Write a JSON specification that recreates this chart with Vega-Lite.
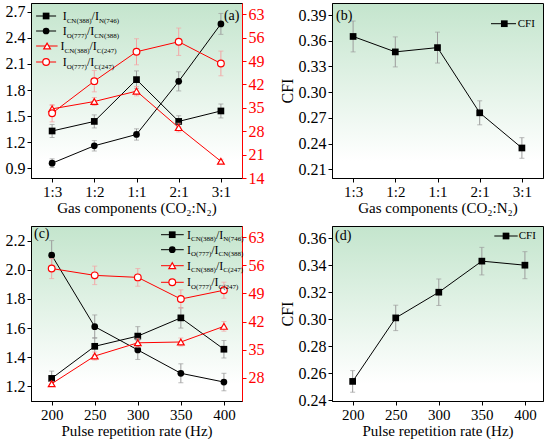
{
  "$schema": "https://vega.github.io/schema/vega-lite/v6.json",
  "padding": {"left": 4, "top": 2, "right": 0, "bottom": 0},
  "bounds": "flush",
  "columns": 2,
  "spacing": {"row": 48, "column": 90},
  "datasets": {
    "gas": [
      {"gas": "1:3", "series": "sq", "value": 1.33, "err": 0.075},
      {"gas": "1:2", "series": "sq", "value": 1.44, "err": 0.075},
      {"gas": "1:1", "series": "sq", "value": 1.92, "err": 0.1},
      {"gas": "2:1", "series": "sq", "value": 1.44, "err": 0.065},
      {"gas": "3:1", "series": "sq", "value": 1.56, "err": 0.08},
      {"gas": "1:3", "series": "ci", "value": 0.96, "err": 0.05},
      {"gas": "1:2", "series": "ci", "value": 1.16, "err": 0.06},
      {"gas": "1:1", "series": "ci", "value": 1.29, "err": 0.065},
      {"gas": "2:1", "series": "ci", "value": 1.9, "err": 0.11},
      {"gas": "3:1", "series": "ci", "value": 2.56, "err": 0.12},
      {"gas": "1:3", "series": "tr", "value": 34.7, "err": 1.0},
      {"gas": "1:2", "series": "tr", "value": 36.9, "err": 1.2},
      {"gas": "1:1", "series": "tr", "value": 40.0, "err": 1.4},
      {"gas": "2:1", "series": "tr", "value": 29.1, "err": 1.3},
      {"gas": "3:1", "series": "tr", "value": 19.0, "err": 0.6},
      {"gas": "1:3", "series": "oc", "value": 33.4, "err": 2.6},
      {"gas": "1:2", "series": "oc", "value": 43.0, "err": 3.2},
      {"gas": "1:1", "series": "oc", "value": 51.8, "err": 3.9},
      {"gas": "2:1", "series": "oc", "value": 54.8, "err": 4.1},
      {"gas": "3:1", "series": "oc", "value": 48.3, "err": 3.7}
    ],
    "rate": [
      {"rate": 200, "series": "sq", "value": 1.255, "err": 0.05},
      {"rate": 250, "series": "sq", "value": 1.475, "err": 0.06},
      {"rate": 300, "series": "sq", "value": 1.545, "err": 0.065},
      {"rate": 350, "series": "sq", "value": 1.67, "err": 0.07},
      {"rate": 400, "series": "sq", "value": 1.455, "err": 0.06},
      {"rate": 200, "series": "ci", "value": 2.1, "err": 0.1},
      {"rate": 250, "series": "ci", "value": 1.61, "err": 0.08},
      {"rate": 300, "series": "ci", "value": 1.45, "err": 0.065},
      {"rate": 350, "series": "ci", "value": 1.29, "err": 0.065},
      {"rate": 400, "series": "ci", "value": 1.23, "err": 0.06},
      {"rate": 200, "series": "tr", "value": 26.5, "err": 0.6},
      {"rate": 250, "series": "tr", "value": 33.4, "err": 1.0},
      {"rate": 300, "series": "tr", "value": 36.7, "err": 1.1},
      {"rate": 350, "series": "tr", "value": 36.9, "err": 1.0},
      {"rate": 400, "series": "tr", "value": 40.8, "err": 1.2},
      {"rate": 200, "series": "oc", "value": 55.2, "err": 2.5},
      {"rate": 250, "series": "oc", "value": 53.5, "err": 2.3},
      {"rate": 300, "series": "oc", "value": 53.0, "err": 2.2},
      {"rate": 350, "series": "oc", "value": 47.6, "err": 2.3},
      {"rate": 400, "series": "oc", "value": 49.8, "err": 2.0}
    ],
    "cfi_gas": [
      {"gas": "1:3", "cfi": 0.365, "err": 0.018},
      {"gas": "1:2", "cfi": 0.347, "err": 0.0175},
      {"gas": "1:1", "cfi": 0.352, "err": 0.018},
      {"gas": "2:1", "cfi": 0.276, "err": 0.014},
      {"gas": "3:1", "cfi": 0.235, "err": 0.012}
    ],
    "cfi_rate": [
      {"rate": 200, "cfi": 0.254, "err": 0.008},
      {"rate": 250, "cfi": 0.301, "err": 0.0094},
      {"rate": 300, "cfi": 0.32, "err": 0.0098},
      {"rate": 350, "cfi": 0.343, "err": 0.0102},
      {"rate": 400, "cfi": 0.34, "err": 0.01}
    ]
  },
  "concat": [
    {
      "width": 211,
      "height": 175,
      "data": {"name": "gas"},
      "encoding": {
        "x": {"field": "gas", "type": "ordinal", "scale": {"type": "point", "padding": 0.5, "domain": ["1:3", "1:2", "1:1", "2:1", "3:1"]}, "axis": {"title": "Gas components (CO₂:N₂)", "labelAngle": 0}}
      },
      "layer": [
        {
          "transform": [{"filter": {"field": "series", "oneOf": ["sq", "ci"]}}],
          "encoding": {
            "y": {"field": "value", "type": "quantitative", "scale": {"domain": [0.79, 2.8], "nice": false, "zero": false}, "axis": {"values": [0.9, 1.2, 1.5, 1.8, 2.1, 2.4, 2.7], "format": ".1f", "title": null}}
          },
          "layer": [
            {"mark": {"type": "errorbar", "color": "#9c9c9c", "ticks": {"size": 5}}, "encoding": {"yError": {"field": "err"}}},
            {"mark": {"type": "line", "color": "black", "strokeWidth": 1}, "encoding": {"detail": {"field": "series"}}},
            {"mark": {"type": "point", "filled": true, "color": "black", "opacity": 1, "size": 45}, "encoding": {"shape": {"field": "series", "type": "nominal", "scale": {"domain": ["sq", "ci", "tr", "oc"], "range": ["square", "circle", "triangle-up", "circle"]}, "legend": null}}}
          ]
        },
        {
          "transform": [{"filter": {"field": "series", "oneOf": ["tr", "oc"]}}],
          "encoding": {
            "y": {"field": "value", "type": "quantitative", "scale": {"domain": [14, 66.4], "nice": false, "zero": false}, "axis": {"orient": "right", "values": [14, 21, 28, 35, 42, 49, 56, 63], "title": null, "domainColor": "red", "tickColor": "red", "labelColor": "red"}}
          },
          "layer": [
            {"mark": {"type": "errorbar", "color": "#f4a4a4", "ticks": {"size": 5}}, "encoding": {"yError": {"field": "err"}}},
            {"mark": {"type": "line", "color": "red", "strokeWidth": 1}, "encoding": {"detail": {"field": "series"}}},
            {"mark": {"type": "point", "filled": true, "fill": "white", "stroke": "red", "strokeWidth": 1.2, "opacity": 1, "size": 45}, "encoding": {"shape": {"field": "series", "type": "nominal", "scale": {"domain": ["sq", "ci", "tr", "oc"], "range": ["square", "circle", "triangle-up", "circle"]}, "legend": null}}},
            {
              "transform": [{"filter": "datum.gas == '1:3' && datum.series == 'tr'"}],
              "encoding": {"x": {"datum": "1:3", "type": "ordinal"}, "y": {"datum": 66.4, "type": "quantitative"}},
              "layer": [
                {"mark": {"type": "rule", "color": "black", "strokeWidth": 1, "xOffset": -16, "x2Offset": 4, "yOffset": 13}, "encoding": {"x2": {"datum": "1:3"}}},
                {"mark": {"type": "point", "shape": "square", "filled": true, "color": "black", "opacity": 1, "size": 45, "xOffset": -6, "yOffset": 13}},
                {"mark": {"type": "text", "text": "I", "fontSize": 12, "align": "left", "baseline": "middle", "dx": 10.6, "dy": 13, "color": "black"}},
                {"mark": {"type": "text", "text": "CN(388)", "fontSize": 7, "align": "left", "baseline": "middle", "dx": 14.6, "dy": 17.5, "color": "black"}},
                {"mark": {"type": "text", "text": "/I", "fontSize": 12, "align": "left", "baseline": "middle", "dx": 39.5, "dy": 13, "color": "black"}},
                {"mark": {"type": "text", "text": "N(746)", "fontSize": 7, "align": "left", "baseline": "middle", "dx": 46.8, "dy": 17.5, "color": "black"}},

                {"mark": {"type": "rule", "color": "black", "strokeWidth": 1, "xOffset": -16, "x2Offset": 4, "yOffset": 28}, "encoding": {"x2": {"datum": "1:3"}}},
                {"mark": {"type": "point", "shape": "circle", "filled": true, "color": "black", "opacity": 1, "size": 45, "xOffset": -6, "yOffset": 28}},
                {"mark": {"type": "text", "text": "I", "fontSize": 12, "align": "left", "baseline": "middle", "dx": 10.6, "dy": 28, "color": "black"}},
                {"mark": {"type": "text", "text": "O(777)", "fontSize": 7, "align": "left", "baseline": "middle", "dx": 14.6, "dy": 32.5, "color": "black"}},
                {"mark": {"type": "text", "text": "/I", "fontSize": 12, "align": "left", "baseline": "middle", "dx": 34.8, "dy": 28, "color": "black"}},
                {"mark": {"type": "text", "text": "CN(388)", "fontSize": 7, "align": "left", "baseline": "middle", "dx": 42.1, "dy": 32.5, "color": "black"}},

                {"mark": {"type": "rule", "color": "red", "strokeWidth": 1, "xOffset": -16, "x2Offset": 5.5, "yOffset": 43}, "encoding": {"x2": {"datum": "1:3"}}},
                {"mark": {"type": "point", "shape": "triangle-up", "filled": true, "fill": "white", "stroke": "red", "strokeWidth": 1.2, "opacity": 1, "size": 45, "xOffset": -5, "yOffset": 43}},
                {"mark": {"type": "text", "text": "I", "fontSize": 12, "align": "left", "baseline": "middle", "dx": 8.5, "dy": 43, "color": "black"}},
                {"mark": {"type": "text", "text": "CN(388)", "fontSize": 7, "align": "left", "baseline": "middle", "dx": 12.5, "dy": 47.5, "color": "black"}},
                {"mark": {"type": "text", "text": "/I", "fontSize": 12, "align": "left", "baseline": "middle", "dx": 37.4, "dy": 43, "color": "black"}},
                {"mark": {"type": "text", "text": "C(247)", "fontSize": 7, "align": "left", "baseline": "middle", "dx": 44.7, "dy": 47.5, "color": "black"}},

                {"mark": {"type": "rule", "color": "red", "strokeWidth": 1, "xOffset": -16, "x2Offset": 4, "yOffset": 59}, "encoding": {"x2": {"datum": "1:3"}}},
                {"mark": {"type": "point", "shape": "circle", "filled": true, "fill": "white", "stroke": "red", "strokeWidth": 1.2, "opacity": 1, "size": 45, "xOffset": -6, "yOffset": 59}},
                {"mark": {"type": "text", "text": "I", "fontSize": 12, "align": "left", "baseline": "middle", "dx": 10.6, "dy": 59, "color": "black"}},
                {"mark": {"type": "text", "text": "O(777)", "fontSize": 7, "align": "left", "baseline": "middle", "dx": 14.6, "dy": 63.5, "color": "black"}},
                {"mark": {"type": "text", "text": "/I", "fontSize": 12, "align": "left", "baseline": "middle", "dx": 34.8, "dy": 59, "color": "black"}},
                {"mark": {"type": "text", "text": "C(247)", "fontSize": 7, "align": "left", "baseline": "middle", "dx": 42.1, "dy": 63.5, "color": "black"}},

                {"mark": {"type": "text", "text": "(a)", "fontSize": 14, "align": "left", "baseline": "middle", "dx": 3, "dy": 13, "color": "black"}, "encoding": {"x": {"datum": "3:1", "type": "ordinal"}}}
              ]
            }
          ]
        }
      ],
      "resolve": {"scale": {"y": "independent"}}
    },
    {
      "width": 211,
      "height": 175,
      "data": {"name": "cfi_gas"},
      "encoding": {
        "x": {"field": "gas", "type": "ordinal", "scale": {"type": "point", "padding": 0.5, "domain": ["1:3", "1:2", "1:1", "2:1", "3:1"]}, "axis": {"title": "Gas components (CO₂:N₂)", "labelAngle": 0}},
        "y": {"field": "cfi", "type": "quantitative", "scale": {"domain": [0.2, 0.404], "nice": false, "zero": false}, "axis": {"values": [0.21, 0.24, 0.27, 0.3, 0.33, 0.36, 0.39], "format": ".2f", "title": "CFI", "titleFontSize": 16, "titlePadding": 3}}
      },
      "layer": [
        {"mark": {"type": "errorbar", "color": "#9c9c9c", "ticks": {"size": 5}}, "encoding": {"yError": {"field": "err"}}},
        {"mark": {"type": "line", "color": "black", "strokeWidth": 1}},
        {"mark": {"type": "point", "shape": "square", "filled": true, "color": "black", "opacity": 1, "size": 45}},
        {
          "transform": [{"filter": "datum.gas == '3:1'"}],
          "encoding": {"x": {"datum": "3:1", "type": "ordinal"}, "y": {"datum": 0.404, "type": "quantitative"}},
          "layer": [
            {"mark": {"type": "rule", "color": "black", "strokeWidth": 1, "xOffset": -30.9, "x2Offset": -5.9, "yOffset": 20.7}, "encoding": {"x2": {"datum": "3:1"}}},
            {"mark": {"type": "point", "shape": "square", "filled": true, "color": "black", "opacity": 1, "size": 45, "xOffset": -17.6, "yOffset": 20.7}},
            {"mark": {"type": "text", "text": "CFI", "fontSize": 11, "align": "left", "baseline": "middle", "dx": -4.2, "dy": 20.7, "color": "black"}},
            {"mark": {"type": "text", "text": "(b)", "fontSize": 14, "align": "left", "baseline": "middle", "dx": -17, "dy": 13, "color": "black"}, "encoding": {"x": {"datum": "1:3", "type": "ordinal"}}}
          ]
        }
      ]
    },
    {
      "width": 211,
      "height": 175,
      "data": {"name": "rate"},
      "encoding": {
        "x": {"field": "rate", "type": "quantitative", "scale": {"domain": [176, 421], "nice": false, "zero": false}, "axis": {"title": "Pulse repetition rate (Hz)", "values": [200, 250, 300, 350, 400]}}
      },
      "layer": [
        {
          "transform": [{"filter": {"field": "series", "oneOf": ["sq", "ci"]}}],
          "encoding": {
            "y": {"field": "value", "type": "quantitative", "scale": {"domain": [1.1, 2.3], "nice": false, "zero": false}, "axis": {"values": [1.2, 1.4, 1.6, 1.8, 2.0, 2.2], "format": ".1f", "title": null}}
          },
          "layer": [
            {"mark": {"type": "errorbar", "color": "#9c9c9c", "ticks": {"size": 5}}, "encoding": {"yError": {"field": "err"}}},
            {"mark": {"type": "line", "color": "black", "strokeWidth": 1}, "encoding": {"detail": {"field": "series"}}},
            {"mark": {"type": "point", "filled": true, "color": "black", "opacity": 1, "size": 45}, "encoding": {"shape": {"field": "series", "type": "nominal", "scale": {"domain": ["sq", "ci", "tr", "oc"], "range": ["square", "circle", "triangle-up", "circle"]}, "legend": null}}}
          ]
        },
        {
          "transform": [{"filter": {"field": "series", "oneOf": ["tr", "oc"]}}],
          "encoding": {
            "y": {"field": "value", "type": "quantitative", "scale": {"domain": [22.2, 65.8], "nice": false, "zero": false}, "axis": {"orient": "right", "values": [28, 35, 42, 49, 56, 63], "title": null, "domainColor": "red", "tickColor": "red", "labelColor": "red"}}
          },
          "layer": [
            {"mark": {"type": "errorbar", "color": "#f4a4a4", "ticks": {"size": 5}}, "encoding": {"yError": {"field": "err"}}},
            {"mark": {"type": "line", "color": "red", "strokeWidth": 1}, "encoding": {"detail": {"field": "series"}}},
            {"mark": {"type": "point", "filled": true, "fill": "white", "stroke": "red", "strokeWidth": 1.2, "opacity": 1, "size": 45}, "encoding": {"shape": {"field": "series", "type": "nominal", "scale": {"domain": ["sq", "ci", "tr", "oc"], "range": ["square", "circle", "triangle-up", "circle"]}, "legend": null}}},
            {
              "transform": [{"filter": "datum.rate == 200 && datum.series == 'tr'"}],
              "encoding": {"x": {"datum": 340, "type": "quantitative"}, "y": {"datum": 65.8, "type": "quantitative"}},
              "layer": [
                {"mark": {"type": "rule", "color": "black", "strokeWidth": 1, "xOffset": -11.2, "x2Offset": 11.5, "yOffset": 8.7}, "encoding": {"x2": {"datum": 340}}},
                {"mark": {"type": "point", "shape": "square", "filled": true, "color": "black", "opacity": 1, "size": 45, "yOffset": 8.7}},
                {"mark": {"type": "text", "text": "I", "fontSize": 12, "align": "left", "baseline": "middle", "dx": 14.8, "dy": 8.7, "color": "black"}},
                {"mark": {"type": "text", "text": "CN(388)", "fontSize": 7, "align": "left", "baseline": "middle", "dx": 18.8, "dy": 13.2, "color": "black"}},
                {"mark": {"type": "text", "text": "/I", "fontSize": 12, "align": "left", "baseline": "middle", "dx": 43.7, "dy": 8.7, "color": "black"}},
                {"mark": {"type": "text", "text": "N(746)", "fontSize": 7, "align": "left", "baseline": "middle", "dx": 51.0, "dy": 13.2, "color": "black"}},

                {"mark": {"type": "rule", "color": "black", "strokeWidth": 1, "xOffset": -11.2, "x2Offset": 11.5, "yOffset": 23.7}, "encoding": {"x2": {"datum": 340}}},
                {"mark": {"type": "point", "shape": "circle", "filled": true, "color": "black", "opacity": 1, "size": 45, "yOffset": 23.7}},
                {"mark": {"type": "text", "text": "I", "fontSize": 12, "align": "left", "baseline": "middle", "dx": 14.8, "dy": 23.7, "color": "black"}},
                {"mark": {"type": "text", "text": "O(777)", "fontSize": 7, "align": "left", "baseline": "middle", "dx": 18.8, "dy": 28.2, "color": "black"}},
                {"mark": {"type": "text", "text": "/I", "fontSize": 12, "align": "left", "baseline": "middle", "dx": 39.0, "dy": 23.7, "color": "black"}},
                {"mark": {"type": "text", "text": "CN(388)", "fontSize": 7, "align": "left", "baseline": "middle", "dx": 46.3, "dy": 28.2, "color": "black"}},

                {"mark": {"type": "rule", "color": "red", "strokeWidth": 1, "xOffset": -11.2, "x2Offset": 11.5, "yOffset": 39.7}, "encoding": {"x2": {"datum": 340}}},
                {"mark": {"type": "point", "shape": "triangle-up", "filled": true, "fill": "white", "stroke": "red", "strokeWidth": 1.2, "opacity": 1, "size": 45, "yOffset": 39.7}},
                {"mark": {"type": "text", "text": "I", "fontSize": 12, "align": "left", "baseline": "middle", "dx": 14.8, "dy": 39.7, "color": "black"}},
                {"mark": {"type": "text", "text": "CN(388)", "fontSize": 7, "align": "left", "baseline": "middle", "dx": 18.8, "dy": 44.2, "color": "black"}},
                {"mark": {"type": "text", "text": "/I", "fontSize": 12, "align": "left", "baseline": "middle", "dx": 43.7, "dy": 39.7, "color": "black"}},
                {"mark": {"type": "text", "text": "C(247)", "fontSize": 7, "align": "left", "baseline": "middle", "dx": 51.0, "dy": 44.2, "color": "black"}},

                {"mark": {"type": "rule", "color": "red", "strokeWidth": 1, "xOffset": -11.2, "x2Offset": 11.5, "yOffset": 56.3}, "encoding": {"x2": {"datum": 340}}},
                {"mark": {"type": "point", "shape": "circle", "filled": true, "fill": "white", "stroke": "red", "strokeWidth": 1.2, "opacity": 1, "size": 45, "yOffset": 56.3}},
                {"mark": {"type": "text", "text": "I", "fontSize": 12, "align": "left", "baseline": "middle", "dx": 14.8, "dy": 56.3, "color": "black"}},
                {"mark": {"type": "text", "text": "O(777)", "fontSize": 7, "align": "left", "baseline": "middle", "dx": 18.8, "dy": 60.8, "color": "black"}},
                {"mark": {"type": "text", "text": "/I", "fontSize": 12, "align": "left", "baseline": "middle", "dx": 39.0, "dy": 56.3, "color": "black"}},
                {"mark": {"type": "text", "text": "C(247)", "fontSize": 7, "align": "left", "baseline": "middle", "dx": 46.3, "dy": 60.8, "color": "black"}},

                {"mark": {"type": "text", "text": "(c)", "fontSize": 14, "align": "left", "baseline": "middle", "dx": -17.7, "dy": 8, "color": "black"}, "encoding": {"x": {"datum": 200, "type": "quantitative"}}}
              ]
            }
          ]
        }
      ],
      "resolve": {"scale": {"y": "independent"}}
    },
    {
      "width": 211,
      "height": 175,
      "data": {"name": "cfi_rate"},
      "encoding": {
        "x": {"field": "rate", "type": "quantitative", "scale": {"domain": [176, 421], "nice": false, "zero": false}, "axis": {"title": "Pulse repetition rate (Hz)", "values": [200, 250, 300, 350, 400]}},
        "y": {"field": "cfi", "type": "quantitative", "scale": {"domain": [0.2395, 0.369], "nice": false, "zero": false}, "axis": {"values": [0.24, 0.26, 0.28, 0.3, 0.32, 0.34, 0.36], "format": ".2f", "title": "CFI", "titleFontSize": 16, "titlePadding": 3}}
      },
      "layer": [
        {"mark": {"type": "errorbar", "color": "#9c9c9c", "ticks": {"size": 5}}, "encoding": {"yError": {"field": "err"}}},
        {"mark": {"type": "line", "color": "black", "strokeWidth": 1}},
        {"mark": {"type": "point", "shape": "square", "filled": true, "color": "black", "opacity": 1, "size": 45}},
        {
          "transform": [{"filter": "datum.rate == 400"}],
          "encoding": {"x": {"datum": 400, "type": "quantitative"}, "y": {"datum": 0.369, "type": "quantitative"}},
          "layer": [
            {"mark": {"type": "rule", "color": "black", "strokeWidth": 1, "xOffset": -30.6, "x2Offset": -7.2, "yOffset": 10}, "encoding": {"x2": {"datum": 400}}},
            {"mark": {"type": "point", "shape": "square", "filled": true, "color": "black", "opacity": 1, "size": 45, "xOffset": -18.9, "yOffset": 10}},
            {"mark": {"type": "text", "text": "CFI", "fontSize": 11, "align": "left", "baseline": "middle", "dx": -6.2, "dy": 10, "color": "black"}},
            {"mark": {"type": "text", "text": "(d)", "fontSize": 14, "align": "left", "baseline": "middle", "dx": -17.7, "dy": 10, "color": "black"}, "encoding": {"x": {"datum": 200, "type": "quantitative"}}}
          ]
        }
      ]
    }
  ],
  "config": {
    "font": "Liberation Serif",
    "view": {
      "stroke": "black",
      "strokeWidth": 1,
      "fill": {"gradient": "linear", "x1": 0, "y1": 0, "x2": 0, "y2": 1, "stops": [{"offset": 0, "color": "#c4e5cd"}, {"offset": 0.9, "color": "#ffffff"}]}
    },
    "axis": {
      "labelFont": "Liberation Serif",
      "titleFont": "Liberation Serif",
      "labelFontSize": 15,
      "titleFontSize": 15,
      "titleFontWeight": "normal",
      "labelColor": "black",
      "titleColor": "black",
      "domainColor": "black",
      "tickColor": "black",
      "tickSize": 4,
      "labelPadding": 2,
      "titlePadding": 1,
      "labelFlush": false,
      "grid": false
    },
    "axisY": {"labelFontSize": 16}
  }
}
